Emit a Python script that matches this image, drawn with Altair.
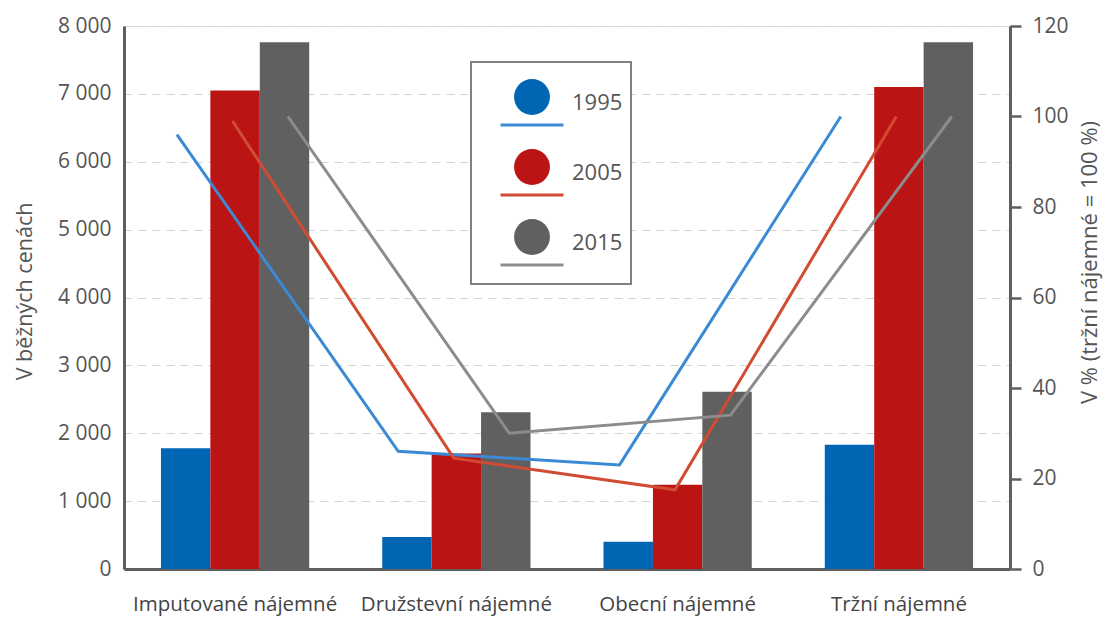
import altair as alt
import pandas as pd

categories = ["Imputované nájemné", "Družstevní nájemné", "Obecní nájemné", "Tržní nájemné"]
years = ["1995", "2005", "2015"]

# V běžných cenách (levá osa)
rent_1995 = [1780, 470, 400, 1830]
rent_2005 = [7050, 1700, 1240, 7100]
rent_2015 = [7760, 2310, 2610, 7760]

# V % (tržní nájemné = 100 %) (pravá osa)
pct_1995 = [96, 26, 23, 100]
pct_2005 = [99, 24.5, 17.5, 100]
pct_2015 = [100, 30, 34, 100]

bar_colors = ["#0066B3", "#BA1414", "#606060"]
line_colors = ["#3C8AD5", "#D24B33", "#8C8C8C"]

rows = []
for yr, rv, pv in zip(years, [rent_1995, rent_2005, rent_2015], [pct_1995, pct_2005, pct_2015]):
    for c, r, p in zip(categories, rv, pv):
        rows.append({"category": c, "year": yr, "rent": r, "pct": p})
df = pd.DataFrame(rows)

FONT = "Open Sans"
TXT = "#555555"
AX = "#5f5f5f"

x_enc = alt.X(
    "category:N", sort=categories,
    scale=alt.Scale(paddingInner=0.33, paddingOuter=0.167),
    axis=alt.Axis(title=None, ticks=False, domainColor=AX, domainWidth=3,
                  labelFontSize=20.5, labelColor="#444444", labelPadding=25,
                  labelLimit=300, labelAngle=0, labelFont=FONT),
)
xoff = alt.XOffset("year:N", sort=years, scale=alt.Scale(paddingInner=0, paddingOuter=0))

circle_path = ("M -1,-0.84 M 1,0.84 M -0.57,-0.19 A 0.57,0.57 0 1,1 0.57,-0.19 "
               "A 0.57,0.57 0 1,1 -0.57,-0.19 Z")
line_path = "M -1,-0.84 M 1,0.84 M -1,0.70 L 1,0.70"

legend_common = dict(
    title=None, orient="none", legendX=347, legendY=36, padding=8,
    symbolSize=3969, symbolOffset=20, labelOffset=7, rowPadding=4,
    labelFontSize=22, labelColor=TXT, labelFont=FONT, direction="vertical",
)

bars = alt.Chart(df).mark_bar().encode(
    x=x_enc,
    xOffset=xoff,
    y=alt.Y("rent:Q", scale=alt.Scale(domain=[0, 8000]),
            axis=alt.Axis(title="V běžných cenách", orient="left", values=list(range(0, 8001, 1000)),
                          ticks=False, domainColor=AX, domainWidth=3,
                          grid=True, gridColor="#d3d3d3", gridDash=[8, 6], gridWidth=1.2,
                          labelFontSize=21, labelColor=TXT, labelPadding=13, labelFont=FONT,
                          labelExpr="replace(format(datum.value, ','), ',', ' ')",
                          titleFontSize=21.5, titleColor=TXT, titleFontWeight="normal",
                          titleFont=FONT, titlePadding=21, titleY=265)),
    color=alt.Color("year:N", scale=alt.Scale(domain=years, range=bar_colors),
                    legend=alt.Legend(symbolType=circle_path, symbolStrokeWidth=3,
                                      symbolStrokeColor="transparent",
                                      strokeColor="#808080", fillColor="white",
                                      **legend_common)),
)

lines = alt.Chart(df).mark_line(strokeWidth=3).encode(
    x=alt.X("category:N", sort=categories),
    xOffset=alt.XOffset("year:N", sort=years,
                        scale=alt.Scale(type="point", padding=0, range=[16, 127])),
    y=alt.Y("pct:Q", scale=alt.Scale(domain=[0, 120]),
            axis=alt.Axis(title="V % (tržní nájemné = 100 %)", orient="right",
                          values=list(range(0, 121, 20)), grid=False,
                          ticks=True, tickSize=11, tickWidth=2.5, tickColor=AX,
                          domainColor=AX, domainWidth=3,
                          labelFontSize=21, labelColor=TXT, labelPadding=11, labelFont=FONT,
                          titleFontSize=22, titleColor=TXT, titleFontWeight="normal",
                          titleFont=FONT, titleAngle=270, titlePadding=33, titleY=236)),
    color=alt.Color("year:N", scale=alt.Scale(domain=years, range=line_colors),
                    legend=alt.Legend(symbolType=line_path, symbolStrokeWidth=3,
                                      labelOpacity=0, zindex=1, **legend_common)),
)

chart = alt.layer(bars, lines).resolve_scale(
    y="independent", color="independent", xOffset="independent"
).properties(
    width=886, height=543,
    padding={"left": 116, "top": 18, "right": 96, "bottom": 48},
    autosize=alt.AutoSizeParams(type="none"),
).configure_view(stroke=None).configure(font=FONT).configure_legend(strokeWidth=2)

chart.save("out.html", embed_options={"renderer": "svg", "actions": False})
